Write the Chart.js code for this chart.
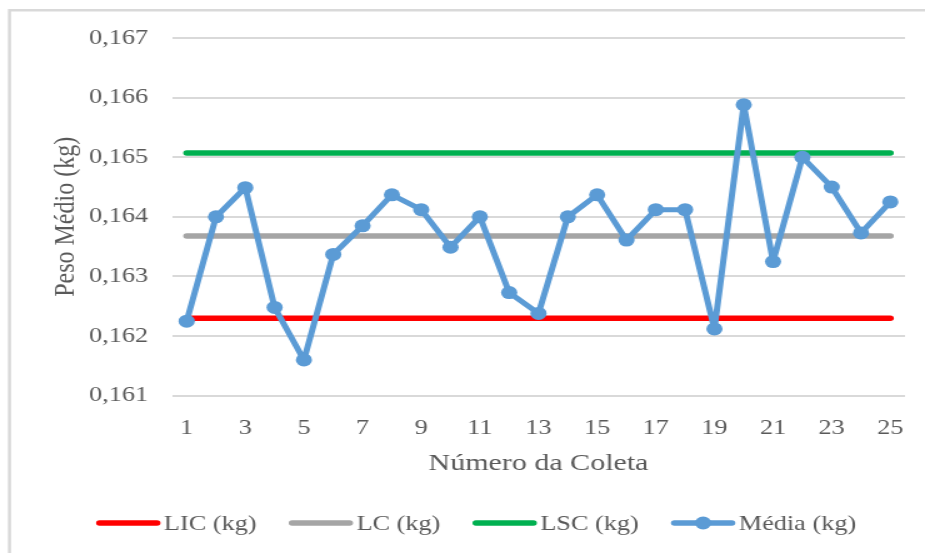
<!DOCTYPE html>
<html lang="pt">
<head>
<meta charset="utf-8">
<title>Gráfico de controle – Peso Médio</title>
<script src="https://cdn.jsdelivr.net/npm/chart.js@4/dist/chart.umd.min.js"></script>
<style>
  html, body { margin: 0; padding: 0; background: #ffffff; overflow: hidden; }
  /* the chart is laid out on a 740px canvas and widened to 925px */
  #quadro { width: 740px; height: 553px; transform: scaleX(1.25); transform-origin: 0 0; }
  canvas { display: block; }
</style>
</head>
<body>
<div id="quadro"><canvas id="grafico" width="740" height="553"></canvas></div>
<script>
// Número da coleta (eixo X)
const coletas = [1, 2, 3, 4, 5, 6, 7, 8, 9, 10, 11, 12, 13, 14, 15, 16, 17, 18, 19, 20, 21, 22, 23, 24, 25];

// Peso médio de cada coleta (kg)
const mediaKg = [
  0.16225, 0.16400, 0.16449, 0.16248, 0.16160,
  0.16337, 0.16385, 0.16437, 0.16412, 0.16349,
  0.16400, 0.16273, 0.16238, 0.16400, 0.16437,
  0.16361, 0.16412, 0.16412, 0.16212, 0.16588,
  0.16325, 0.16500, 0.16450, 0.16373, 0.16425
];

// Limites de controle (kg)
const licKg = 0.16230;   // limite inferior
const lcKg  = 0.16368;   // linha central
const lscKg = 0.16507;   // limite superior

// Eixo Y: faixa e passo das marcas
const eixoYMin = 0.161;
const eixoYMax = 0.167;
const eixoYPasso = 0.001;

const serieLIC = coletas.map(() => licKg);
const serieLC  = coletas.map(() => lcKg);
const serieLSC = coletas.map(() => lscKg);

const corTexto = '#595959';
const fonteSerif = '"Liberation Serif", "Times New Roman", Times, serif';
Chart.defaults.font.family = fonteSerif;
Chart.defaults.color = corTexto;

// light frame along the top and left edges
const moldura = {
  id: 'moldura',
  beforeDraw(chart) {
    const ctx = chart.ctx;
    ctx.save();
    ctx.strokeStyle = '#d9d9d9';
    ctx.lineWidth = 2.5;
    ctx.beginPath();
    ctx.moveTo(7.6, chart.height);
    ctx.lineTo(7.6, 10.2);
    ctx.lineTo(chart.width, 10.2);
    ctx.stroke();
    ctx.restore();
  }
};

// legend row under the axis title: line sample (+ marker) followed by the label
const legendaInferior = {
  id: 'legendaInferior',
  afterDraw(chart) {
    const ctx = chart.ctx;
    const itens = chart.data.datasets;
    const amostra = 51, folgaTexto = 3, folgaItem = 26;
    const centroX = 381, y = 523;
    ctx.save();
    ctx.font = '21px ' + fonteSerif;
    const larguras = itens.map(d => ctx.measureText(d.label).width);
    const total = larguras.reduce((s, w) => s + amostra + folgaTexto + w, 0) + folgaItem * (itens.length - 1);
    let x = centroX - total / 2;
    itens.forEach((d, i) => {
      ctx.strokeStyle = d.borderColor;
      ctx.lineWidth = 5.5;
      ctx.lineCap = 'round';
      ctx.beginPath();
      ctx.moveTo(x + 2.5, y);
      ctx.lineTo(x + amostra - 2.5, y);
      ctx.stroke();
      if (d.pointRadius > 0) {
        ctx.fillStyle = d.pointBackgroundColor;
        ctx.beginPath();
        ctx.arc(x + amostra / 2, y, d.pointRadius, 0, Math.PI * 2);
        ctx.fill();
      }
      ctx.fillStyle = corTexto;
      ctx.textAlign = 'left';
      ctx.textBaseline = 'middle';
      ctx.fillText(d.label, x + amostra + folgaTexto, y + 1);
      x += amostra + folgaTexto + larguras[i] + folgaItem;
    });
    ctx.restore();
  }
};

function limite(label, dados, cor) {
  return {
    label: label,
    data: dados,
    borderColor: cor,
    backgroundColor: cor,
    borderWidth: 5.5,
    borderCapStyle: 'round',
    pointRadius: 0,
    pointHoverRadius: 0,
    tension: 0,
    order: 1
  };
}

new Chart(document.getElementById('grafico'), {
  type: 'line',
  data: {
    labels: coletas,
    datasets: [
      limite('LIC (kg)', serieLIC, '#ff0000'),
      limite('LC (kg)', serieLC, '#a5a5a5'),
      limite('LSC (kg)', serieLSC, '#00b050'),
      {
        label: 'Média (kg)',
        data: mediaKg,
        borderColor: '#5b9bd5',
        backgroundColor: '#5b9bd5',
        pointBackgroundColor: '#5b9bd5',
        pointBorderWidth: 0,
        pointRadius: 6.5,
        borderWidth: 5,
        borderJoinStyle: 'round',
        tension: 0,
        order: 0
      }
    ]
  },
  options: {
    responsive: false,
    devicePixelRatio: 1,
    animation: false,
    events: [],
    layout: { padding: { left: 10, right: 16, top: 38, bottom: 65 } },
    plugins: {
      legend: { display: false },
      tooltip: { enabled: false },
      title: { display: false }
    },
    scales: {
      x: {
        type: 'category',
        offset: true,
        grid: { display: false },
        border: { display: false },
        ticks: {
          autoSkip: false,
          maxRotation: 0,
          padding: 12,
          color: corTexto,
          font: { size: 21 },
          callback(valor, indice) {
            return indice % 2 === 0 ? this.getLabelForValue(valor) : '';
          }
        },
        title: {
          display: true,
          text: 'Número da Coleta',
          color: corTexto,
          font: { size: 24 },
          padding: { top: 0, bottom: 10 }
        },
        afterFit(escala) { escala.height = 92.3; }
      },
      y: {
        min: eixoYMin,
        max: eixoYMax,
        grid: { color: '#d9d9d9', lineWidth: 2, drawTicks: false },
        border: { display: false },
        ticks: {
          stepSize: eixoYPasso,
          padding: 19,
          color: corTexto,
          font: { size: 21 },
          callback: v => v.toFixed(3).replace('.', ',')
        },
        title: {
          display: true,
          text: 'Peso Médio (kg)',
          color: corTexto,
          font: { size: 24 },
          padding: { top: 28.6, bottom: 0 }
        },
        afterFit(escala) { escala.width = 127.6; }
      }
    }
  },
  plugins: [moldura, legendaInferior]
});
</script>
</body>
</html>
